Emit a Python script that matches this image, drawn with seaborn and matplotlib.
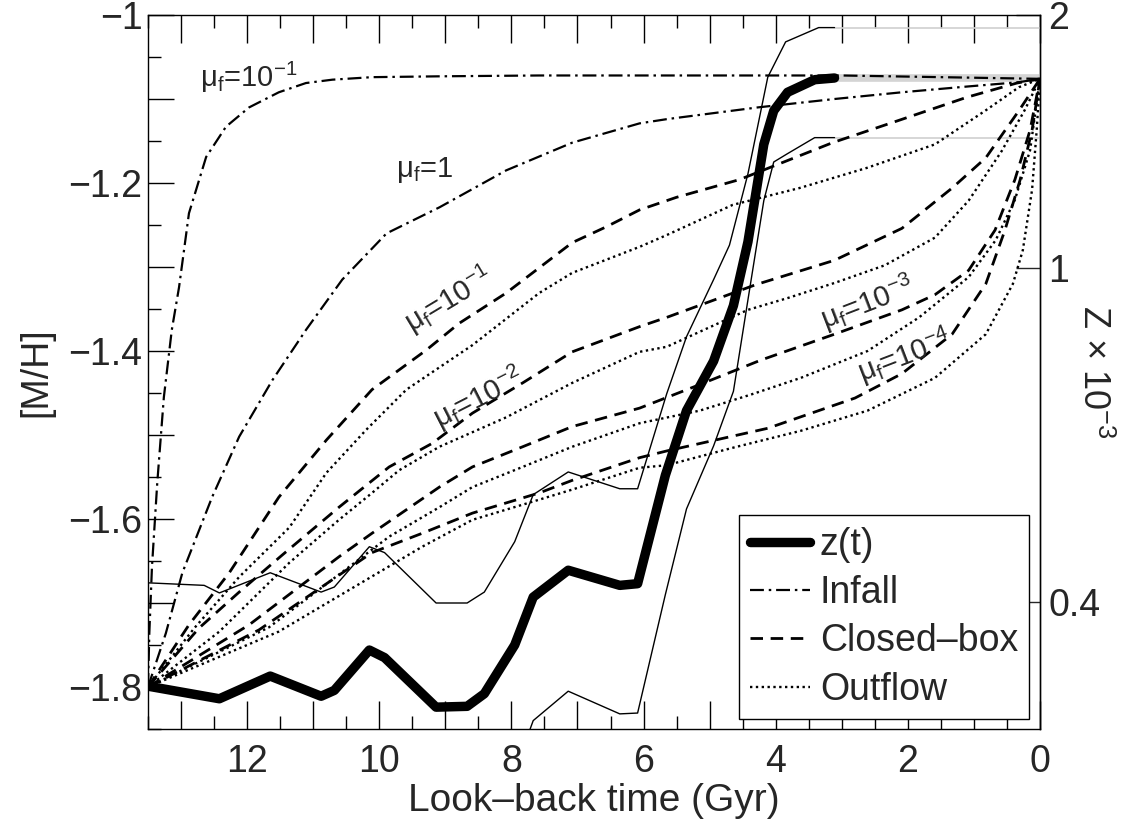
import numpy as np
import matplotlib
matplotlib.use("Agg")
import matplotlib.pyplot as plt
import seaborn as sns
from matplotlib.ticker import MultipleLocator, FuncFormatter, NullLocator

# ---- reconstructed metallicity history z(t) and its envelope --------------
zt_time = [13.5, 12.42, 11.65, 10.88, 10.68, 10.15, 9.92, 9.14, 8.67, 8.41,
           7.95, 7.67, 7.14, 6.36, 6.09, 5.67, 5.35, 4.94, 4.64, 4.42,
           4.18, 4.03, 3.82, 3.41, 3.11]
zt_mh = [-1.799, -1.814, -1.787, -1.811, -1.804, -1.756, -1.765, -1.824,
         -1.823, -1.808, -1.750, -1.693, -1.661, -1.679, -1.677, -1.548,
         -1.471, -1.412, -1.346, -1.270, -1.154, -1.114, -1.092, -1.077,
         -1.075]
up_time = [13.5, 12.65, 12.42, 11.65, 10.88, 10.68, 10.15, 9.92, 9.14, 8.67,
           8.41, 7.95, 7.67, 7.14, 6.36, 6.09, 5.65, 5.35, 4.94, 4.70, 4.42,
           4.12, 3.85, 3.35, 3.11]
up_mh = [-1.676, -1.679, -1.688, -1.664, -1.687, -1.681, -1.633, -1.640,
         -1.700, -1.700, -1.687, -1.627, -1.571, -1.544, -1.564, -1.564,
         -1.451, -1.383, -1.315, -1.274, -1.189, -1.074, -1.032, -1.015,
         -1.015]
lo_time = zt_time
lo_mh = [-1.95, -1.97, -1.94, -1.97, -1.96, -1.91, -1.92, -1.98, -1.98,
         -1.965, -1.90, -1.84, -1.805, -1.832, -1.831, -1.69, -1.588, -1.513,
         -1.448, -1.339, -1.221, -1.175, -1.165, -1.146, -1.146]
# constant continuation after the last reliable age
tail_time = [3.11, 0.0]
tail_up = [-1.015, -1.015]
tail_zt = [-1.075, -1.075]
tail_lo = [-1.146, -1.146]

# ---- chemical evolution models -------------------------------------------
inf1_time = [13.5, 13.48, 13.44, 13.36, 13.26, 13.14, 13.03, 12.88, 12.62,
             12.32, 11.97, 11.52, 11.11, 10.71, 10.11, 9.09, 7.58, 6.06, 3.0, 0.0]
inf1_mh = [-1.80, -1.736, -1.657, -1.557, -1.455, -1.375, -1.324, -1.236,
           -1.169, -1.133, -1.110, -1.092, -1.081, -1.077, -1.074, -1.073,
           -1.072, -1.072, -1.072, -1.076]
inf0_time = [13.5, 13.23, 12.98, 12.53, 12.12, 11.62, 11.11, 10.56, 9.89,
             9.09, 8.08, 7.08, 6.06, 5.65, 4.27, 3.11, 2.09, 1.08, 0.32, 0.0]
inf0_mh = [-1.80, -1.736, -1.664, -1.574, -1.502, -1.435, -1.375, -1.315,
           -1.260, -1.229, -1.185, -1.152, -1.129, -1.124, -1.110, -1.100,
           -1.092, -1.085, -1.080, -1.076]

cb1_time = [13.5, 12.88, 12.27, 11.52, 10.80, 10.11, 9.29, 8.79, 8.08, 7.58,
            7.08, 6.56, 6.06, 5.50, 4.55, 3.14, 2.12, 1.11, 0.35, 0.0]
cb1_mh = [-1.80, -1.726, -1.664, -1.574, -1.506, -1.446, -1.399, -1.367,
          -1.331, -1.301, -1.271, -1.252, -1.232, -1.217, -1.196, -1.152,
          -1.125, -1.098, -1.081, -1.076]
of1_time = [13.5, 12.80, 12.12, 11.36, 10.80, 10.20, 9.59, 8.59, 7.58, 7.08,
            6.06, 5.65, 4.65, 3.64, 2.62, 1.59, 0.83, 0.32, 0.0]
of1_mh = [-1.80, -1.730, -1.669, -1.610, -1.545, -1.494, -1.446, -1.393,
          -1.331, -1.307, -1.276, -1.262, -1.226, -1.206, -1.182, -1.154,
          -1.114, -1.086, -1.076]

cb2_time = [13.5, 12.73, 12.12, 11.47, 10.61, 9.85, 9.20, 8.59, 7.83, 7.08,
            6.06, 5.65, 4.30, 3.11, 2.09, 1.33, 0.82, 0.32, 0.0]
cb2_mh = [-1.80, -1.730, -1.687, -1.643, -1.586, -1.538, -1.510, -1.474,
          -1.438, -1.401, -1.371, -1.360, -1.321, -1.292, -1.254, -1.206,
          -1.170, -1.114, -1.076]
of2_time = [13.5, 12.42, 11.36, 10.61, 10.11, 9.70, 9.09, 8.08, 7.08, 6.06,
            5.65, 4.42, 3.82, 3.11, 2.35, 1.59, 1.08, 0.58, 0.23, 0.0]
of2_mh = [-1.80, -1.734, -1.652, -1.601, -1.569, -1.542, -1.514, -1.479,
          -1.438, -1.401, -1.395, -1.351, -1.337, -1.319, -1.298, -1.265,
          -1.221, -1.162, -1.113, -1.076]

cb3_time = [13.5, 11.97, 10.61, 10.11, 9.59, 9.09, 8.59, 7.83, 7.08, 6.06,
            5.15, 4.23, 3.11, 2.09, 1.59, 1.08, 0.68, 0.38, 0.15, 0.0]
cb3_mh = [-1.80, -1.726, -1.645, -1.617, -1.589, -1.562, -1.538, -1.514,
          -1.490, -1.468, -1.440, -1.411, -1.380, -1.351, -1.333, -1.304,
          -1.256, -1.196, -1.137, -1.076]
of3_time = [13.5, 11.67, 9.85, 9.09, 8.59, 7.83, 7.08, 6.06, 5.15, 4.38,
            3.62, 2.61, 1.83, 1.08, 0.67, 0.38, 0.15, 0.0]
of3_mh = [-1.80, -1.729, -1.621, -1.586, -1.562, -1.538, -1.514, -1.486,
          -1.471, -1.452, -1.432, -1.400, -1.360, -1.312, -1.268, -1.220,
          -1.161, -1.076]

cb4_time = [13.5, 11.82, 10.11, 9.35, 8.59, 7.58, 7.08, 6.06, 5.65, 4.12,
            2.80, 2.09, 1.33, 0.82, 0.53, 0.30, 0.12, 0.0]
cb4_mh = [-1.80, -1.732, -1.640, -1.617, -1.593, -1.569, -1.554, -1.527,
          -1.519, -1.492, -1.456, -1.427, -1.380, -1.320, -1.256, -1.196,
          -1.137, -1.076]
of4_time = [13.5, 11.52, 9.35, 8.59, 7.58, 7.08, 6.06, 5.65, 4.64, 3.62,
            2.61, 1.59, 0.82, 0.41, 0.26, 0.12, 0.05, 0.0]
of4_mh = [-1.80, -1.734, -1.633, -1.601, -1.577, -1.565, -1.539, -1.536,
          -1.515, -1.495, -1.471, -1.432, -1.380, -1.320, -1.280, -1.208,
          -1.137, -1.076]

# curve annotations: text, time, [M/H], rotation
note_text = ["μ$_{\\mathregular{f}}$=10$^{\\mathregular{-1}}$",
             "μ$_{\\mathregular{f}}$=1",
             "μ$_{\\mathregular{f}}$=10$^{\\mathregular{-1}}$",
             "μ$_{\\mathregular{f}}$=10$^{\\mathregular{-2}}$",
             "μ$_{\\mathregular{f}}$=10$^{\\mathregular{-3}}$",
             "μ$_{\\mathregular{f}}$=10$^{\\mathregular{-4}}$"]
note_time = [11.98, 9.32, 8.95, 8.50, 2.61, 2.06]
note_mh = [-1.074, -1.185, -1.339, -1.456, -1.343, -1.406]
note_rot = [0, 0, 31, 27, 21, 21]

legend_labels = ["z(t)", "Infall", "Closed–box", "Outflow"]
z_ticks = [0.4, 1, 2]
z_tick_labels = ["0.4", "1", "2"]

# ---- style ----------------------------------------------------------------
sns.set_style("ticks")
plt.rcParams["font.family"] = ["Liberation Sans", "DejaVu Sans"]
plt.rcParams["mathtext.fontset"] = "custom"
plt.rcParams["mathtext.rm"] = "Liberation Sans"
plt.rcParams["mathtext.it"] = "Liberation Sans:italic"
plt.rcParams["lines.scale_dashes"] = False

DASHDOT = (10, 3.5, 1.8, 3.5)
DASHED = (9, 5.5)
DOTTED = (1.7, 2.5)

fig = plt.figure(figsize=(11.25, 8.25), dpi=100)
ax = fig.add_axes([148 / 1125, 1 - 729 / 825, (1040 - 148) / 1125, (729 - 15) / 825])


def draw(x, y, color="k", lw=1.0, dashes=None, z=2):
    sns.lineplot(x=x, y=y, ax=ax, sort=False, estimator=None, color=color,
                 linewidth=lw, legend=False, zorder=z)
    line = ax.lines[-1]
    if dashes is not None:
        line.set_dashes(dashes)
    return line


# grey continuation of the history
draw(tail_time, tail_up, color="#cfcfcf", lw=1.2, z=1)
draw(tail_time, tail_lo, color="#cfcfcf", lw=1.2, z=1)
draw(tail_time, tail_zt, color="#d4d4d4", lw=5.5, z=1)

# models
h_inf = draw(inf1_time, inf1_mh, lw=1.6, dashes=DASHDOT)
draw(inf0_time, inf0_mh, lw=1.6, dashes=DASHDOT)
h_cb = None
h_of = None
for t, m in [(cb1_time, cb1_mh), (cb2_time, cb2_mh), (cb3_time, cb3_mh), (cb4_time, cb4_mh)]:
    ln = draw(t, m, lw=2.0, dashes=DASHED)
    h_cb = h_cb or ln
for t, m in [(of1_time, of1_mh), (of2_time, of2_mh), (of3_time, of3_mh), (of4_time, of4_mh)]:
    ln = draw(t, m, lw=1.7, dashes=DOTTED)
    h_of = h_of or ln

# history and envelope
draw(up_time, up_mh, lw=1.0, z=3)
draw(lo_time, lo_mh, lw=1.0, z=3)
h_zt = draw(zt_time, zt_mh, lw=6.8, z=4)
h_zt.set_solid_joinstyle("round")

for txt, t, m, r in zip(note_text, note_time, note_mh, note_rot):
    ax.text(t, m, txt, fontsize=21, rotation=r, rotation_mode="anchor",
            ha="center", va="center", zorder=6)

# ---- axes -----------------------------------------------------------------
ax.set_xlim(13.5, 0)
ax.set_ylim(-1.85, -1.0)
for s in ax.spines.values():
    s.set_linewidth(1.0)
    s.set_color("k")

ax.xaxis.set_major_locator(MultipleLocator(1))
ax.xaxis.set_minor_locator(MultipleLocator(0.5))
ax.yaxis.set_major_locator(MultipleLocator(0.1))
ax.yaxis.set_minor_locator(MultipleLocator(0.05))


def xfmt(v, _):
    k = int(round(v))
    return str(k) if k % 2 == 0 else ""


def yfmt(v, _):
    q = v / 0.2
    if abs(q - round(q)) > 1e-6:
        return ""
    if abs(v + 1) < 1e-6:
        return "\u22121"
    return f"{v:.1f}".replace("-", "\u2212")


ax.xaxis.set_major_formatter(FuncFormatter(xfmt))
ax.yaxis.set_major_formatter(FuncFormatter(yfmt))
ax.tick_params(which="both", direction="in", top=True, right=False, width=1.0,
               color="k", labelsize=27)
ax.tick_params(axis="x", which="major", length=20, pad=11)
ax.tick_params(axis="x", which="minor", length=9.5)
ax.tick_params(axis="y", which="major", length=19, pad=4)
ax.tick_params(axis="y", which="minor", length=9.5)

ax.set_xlabel("Look–back time (Gyr)", fontsize=28, labelpad=2)
ax.set_ylabel("[M/H]", fontsize=27, labelpad=10)


def mh_to_z(mh):
    return 20.0 * np.power(10.0, mh)


def z_to_mh(z):
    return np.log10(np.maximum(z, 1e-12) / 20.0)


sec = ax.secondary_yaxis("right", functions=(mh_to_z, z_to_mh))
sec.set_yticks(z_ticks)
sec.set_yticklabels(z_tick_labels)
sec.yaxis.set_minor_locator(NullLocator())
sec.tick_params(direction="in", length=17, width=1.0, labelsize=27, pad=6)
sec.spines["right"].set_linewidth(1.0)
fig.text(1093 / 1125, 1 - 372 / 825, "Z × 10$^{\\mathregular{-3}}$", rotation=270,
         ha="center", va="center", fontsize=26)

leg = ax.legend([h_zt, h_inf, h_cb, h_of], legend_labels, loc="lower right",
                bbox_to_anchor=(0.988, 0.014), borderaxespad=0, fancybox=False,
                edgecolor="k", framealpha=1, fontsize=27, handlelength=1.6,
                handletextpad=0.25, borderpad=0.3, labelspacing=0.33)
leg.get_frame().set_linewidth(1.0)
leg.set_zorder(10)

fig.savefig("out.png", dpi=100)
